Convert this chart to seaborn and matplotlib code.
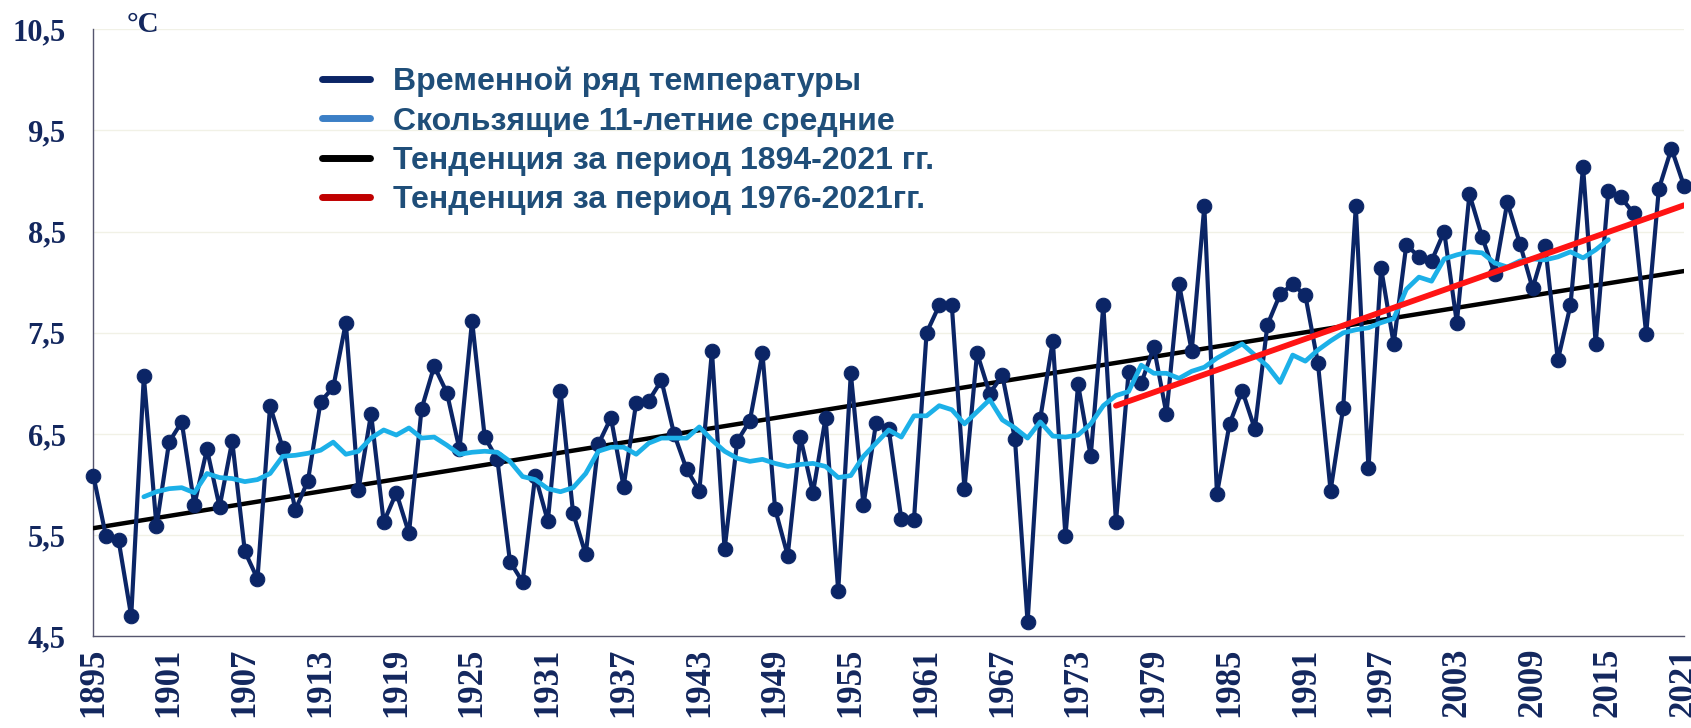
import numpy as np
import pandas as pd
import matplotlib
matplotlib.use("Agg")
import matplotlib.pyplot as plt
from matplotlib.lines import Line2D
import seaborn as sns

years = list(range(1895, 2022))
temp = [6.09,
        5.49, 5.45, 4.70, 7.07, 5.59,
        6.42, 6.62, 5.80, 6.35, 5.78,
        6.43, 5.34, 5.07, 6.78, 6.36,
        5.75, 6.04, 6.82, 6.96, 7.60,
        5.95, 6.70, 5.63, 5.92, 5.52,
        6.75, 7.17, 6.91, 6.35, 7.62,
        6.47, 6.25, 5.24, 5.04, 6.09,
        5.64, 6.93, 5.72, 5.31, 6.40,
        6.66, 5.98, 6.81, 6.83, 7.03,
        6.50, 6.15, 5.94, 7.32, 5.36,
        6.43, 6.63, 7.30, 5.76, 5.30,
        6.47, 5.92, 6.66, 4.95, 7.10,
        5.80, 6.61, 6.55, 5.66, 5.65,
        7.50, 7.77, 7.77, 5.96, 7.30,
        6.90, 7.08, 6.45, 4.64, 6.65,
        7.42, 5.49, 6.99, 6.28, 7.77,
        5.63, 7.11, 7.00, 7.36, 6.70,
        7.98, 7.32, 8.75, 5.91, 6.60,
        6.93, 6.55, 7.58, 7.88, 7.98,
        7.87, 7.20, 5.94, 6.76, 8.75,
        6.16, 8.14, 7.39, 8.37, 8.25,
        8.21, 8.50, 7.60, 8.87, 8.45,
        8.08, 8.79, 8.38, 7.94, 8.36,
        7.23, 7.77, 9.14, 7.39, 8.90,
        8.84, 8.68, 7.49, 8.92, 9.32,
        8.95]

ma_years = list(range(1899, 2016))
ma_vals = [5.88, 5.93, 5.96, 5.97, 5.92, 6.11, 6.07, 6.06, 6.03, 6.05,
           6.11, 6.28, 6.29, 6.31, 6.34, 6.42, 6.30, 6.33, 6.46, 6.54,
           6.49, 6.56, 6.46, 6.47, 6.39, 6.30, 6.32, 6.33, 6.32, 6.23,
           6.08, 6.05, 5.96, 5.93, 5.97, 6.11, 6.33, 6.37, 6.37, 6.30,
           6.41, 6.46, 6.46, 6.46, 6.57, 6.44, 6.33, 6.26, 6.23, 6.25,
           6.21, 6.18, 6.20, 6.21, 6.18, 6.07, 6.09, 6.28, 6.41, 6.54,
           6.47, 6.68, 6.68, 6.78, 6.74, 6.60, 6.72, 6.84, 6.64, 6.56,
           6.46, 6.62, 6.48, 6.47, 6.49, 6.60, 6.78, 6.88, 6.92, 7.18,
           7.10, 7.10, 7.05, 7.12, 7.16, 7.25, 7.32, 7.39, 7.28, 7.17,
           7.01, 7.28, 7.22, 7.33, 7.42, 7.50, 7.53, 7.55, 7.60, 7.64,
           7.93, 8.05, 8.01, 8.23, 8.27, 8.30, 8.29, 8.19, 8.15, 8.21,
           8.23, 8.22, 8.25, 8.30, 8.24, 8.32, 8.42]

trend_all_years = [1895, 2021]
trend_all_vals = [5.57, 8.11]
trend_recent_years = [1976, 2021]
trend_recent_vals = [6.78, 8.76]

ytick_vals = [4.5, 5.5, 6.5, 7.5, 8.5, 9.5, 10.5]
ytick_labels = ["4,5", "5,5", "6,5", "7,5", "8,5", "9,5", "10,5"]
xtick_vals = list(range(1895, 2022, 6))

legend_labels = ["Временной ряд температуры",
                 "Скользящие 11-летние средние",
                 "Тенденция за период 1894-2021 гг.",
                 "Тенденция за период 1976-2021гг."]

navy = "#0b2566"
cyan = "#1cb0e8"
label_col = "#13275e"

df = pd.DataFrame({"year": years, "t": temp})
ma = pd.DataFrame({"year": ma_years, "t": ma_vals})
tr1 = pd.DataFrame({"year": trend_all_years, "t": trend_all_vals})
tr2 = pd.DataFrame({"year": trend_recent_years, "t": trend_recent_vals})

sns.set_style("white")
fig = plt.figure(figsize=(16.91, 7.28), dpi=100)
ax = fig.add_axes([0.0552, 0.1257, 0.9407, 0.8343])

ax.grid(axis="y", color="#f1f1e6", lw=1)
ax.set_axisbelow(True)

sns.lineplot(data=tr1, x="year", y="t", color="black", lw=3.2, ax=ax, zorder=3)
sns.lineplot(data=df, x="year", y="t", color=navy, lw=3, marker="o",
             markersize=10.5, markeredgecolor=navy, ax=ax, zorder=4, clip_on=False)
sns.lineplot(data=ma, x="year", y="t", color=cyan, lw=3.4, ax=ax, zorder=5)
sns.lineplot(data=tr2, x="year", y="t", color="#ff1414", lw=4.2, ax=ax, zorder=6)

ax.set_xlim(1895, 2021)
ax.set_ylim(4.5, 10.5)
ax.set_xticks(xtick_vals)
ax.set_xticklabels([str(y) for y in xtick_vals], rotation=90,
                   family="Liberation Serif", fontweight="bold",
                   fontsize=25, color=label_col)
ax.set_yticks(ytick_vals)
ax.set_yticklabels(ytick_labels, family="Liberation Serif",
                   fontweight="bold", fontsize=22, color=label_col)
ax.tick_params(axis="x", direction="in", length=8, width=1, color="#55556e", pad=8)
ax.tick_params(axis="y", direction="in", length=10, width=1, color="#55556e", pad=20)
ax.set_xlabel("")
ax.set_ylabel("")

for s in ["top", "right"]:
    ax.spines[s].set_visible(False)
for s in ["left", "bottom"]:
    ax.spines[s].set_color("#55556e")
    ax.spines[s].set_linewidth(1)

fig.text(0.075, 0.985, "°C", family="Liberation Serif", fontweight="bold",
         fontsize=21, color=label_col, va="top", ha="left")

handles = [Line2D([0], [0], color="#0b2566", lw=5),
           Line2D([0], [0], color="#3b7fc6", lw=5),
           Line2D([0], [0], color="black", lw=5),
           Line2D([0], [0], color="#c00000", lw=5)]
ax.legend(handles, legend_labels, loc="upper left",
          bbox_to_anchor=(0.144, 0.938), frameon=False, borderpad=0,
          borderaxespad=0, handlelength=1.5, handletextpad=0.7,
          labelspacing=0.29, labelcolor="#1f4e79",
          prop={"family": "Liberation Sans", "weight": "bold", "size": 23})

fig.savefig("out.png", dpi=100)
